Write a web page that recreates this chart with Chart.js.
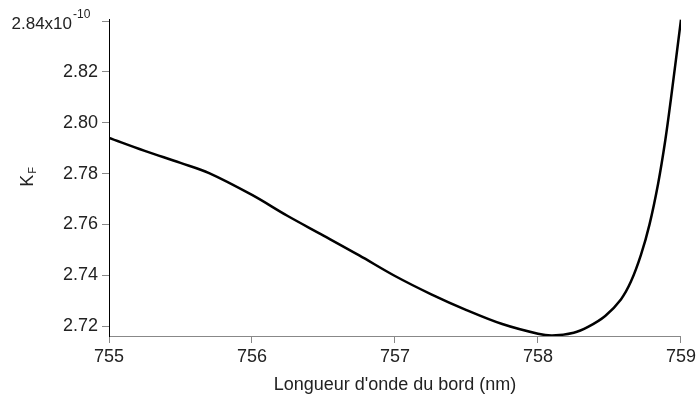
<!DOCTYPE html>
<html>
<head>
<meta charset="utf-8">
<script src="https://cdn.jsdelivr.net/npm/chart.js@4/dist/chart.umd.min.js"></script>
<style>
  html, body { margin: 0; padding: 0; background: #fff; }
  #wrap { width: 699px; height: 394px; position: relative; }
</style>
</head>
<body>
<div id="wrap"><canvas id="chart"></canvas></div>
<script>
// wavelength (nm) and K_F values (x1e-10)
const wavelengths = [755.00, 755.25, 755.50, 755.70, 756.00, 756.25, 756.50, 756.75, 757.00, 757.25, 757.50, 757.75, 758.00, 758.10, 758.25, 758.35, 758.47, 758.58, 758.65, 758.72, 758.78, 758.84, 758.89, 758.93, 759.00];
const kfValues = [2.7940, 2.7889, 2.7842, 2.7802, 2.7716, 2.7633, 2.7556, 2.7478, 2.7397, 2.7326, 2.7263, 2.7208, 2.7170, 2.7163, 2.7174, 2.7197, 2.7240, 2.7305, 2.7375, 2.7480, 2.7600, 2.7760, 2.7930, 2.8095, 2.8405];
const xTicks = [755, 756, 757, 758, 759];
const yTicks = [2.72, 2.74, 2.76, 2.78, 2.80, 2.82, 2.84];

const FONT = '"Liberation Sans", Arial, sans-serif';
const TEXT = '#222';

// top tick label with exponent + y title with subscript + x title
const extraText = {
  id: 'extraText',
  afterDraw(chart) {
    const ctx = chart.ctx;
    const y = chart.scales.y;
    const area = chart.chartArea;
    ctx.save();
    ctx.fillStyle = TEXT;
    const ty = y.getPixelForValue(2.84);
    ctx.font = '17px ' + FONT;
    ctx.textAlign = 'right';
    ctx.textBaseline = 'middle';
    ctx.fillText('2.84x10', 72, ty + 3);
    ctx.font = '12px ' + FONT;
    ctx.textAlign = 'left';
    ctx.fillText('-10', 73, ty - 6);

    // K_F rotated
    const cy = (area.top + area.bottom) / 2;
    ctx.translate(27, cy);
    ctx.rotate(-Math.PI / 2);
    ctx.textBaseline = 'alphabetic';
    ctx.font = '18px ' + FONT;
    const kw = ctx.measureText('K').width;
    ctx.font = '11px ' + FONT;
    const fw = ctx.measureText('F').width;
    const start = -(kw + fw) / 2;
    ctx.font = '18px ' + FONT;
    ctx.fillText('K', start, 6);
    ctx.font = '11px ' + FONT;
    ctx.fillText('F', start + kw + 1, 9);
    ctx.restore();

    ctx.save();
    ctx.fillStyle = TEXT;
    ctx.font = '18px ' + FONT;
    ctx.textAlign = 'center';
    ctx.textBaseline = 'middle';
    ctx.fillText("Longueur d'onde du bord (nm)", (area.left + area.right) / 2, 385);
    ctx.restore();
  }
};

new Chart(document.getElementById('chart'), {
  type: 'line',
  data: {
    datasets: [{
      data: wavelengths.map((w, i) => ({ x: w, y: kfValues[i] })),
      borderColor: '#000',
      borderWidth: 2.5,
      pointRadius: 0,
      fill: false,
      tension: 0.35
    }]
  },
  options: {
    responsive: true,
    maintainAspectRatio: false,
    animation: false,
    layout: { autoPadding: false, padding: { top: 19, right: 13, left: 0, bottom: 0 } },
    plugins: { legend: { display: false }, tooltip: { enabled: false } },
    scales: {
      x: {
        type: 'linear',
        min: 755, max: 759,
        afterFit(scale) { scale.height = 58; },
        afterBuildTicks(scale) { scale.ticks = xTicks.map(v => ({ value: v })); },
        grid: { drawOnChartArea: false, drawTicks: true, tickLength: 7, color: '#888' },
        border: { color: '#888', width: 1 },
        ticks: { padding: 3, color: TEXT, font: { family: FONT, size: 18 }, callback: v => String(v) }
      },
      y: {
        type: 'linear',
        min: 2.7161, max: 2.8408,
        afterFit(scale) { scale.width = 109; },
        afterBuildTicks(scale) { scale.ticks = yTicks.map(v => ({ value: v })); },
        grid: { drawOnChartArea: false, drawTicks: true, tickLength: 7, color: '#888' },
        border: { color: '#000', width: 1 },
        ticks: {
          padding: 4, color: TEXT, font: { family: FONT, size: 18 },
          callback: v => (Math.abs(v - 2.84) < 1e-6 ? '' : v.toFixed(2))
        }
      }
    }
  },
  plugins: [extraText]
});
</script>
</body>
</html>
